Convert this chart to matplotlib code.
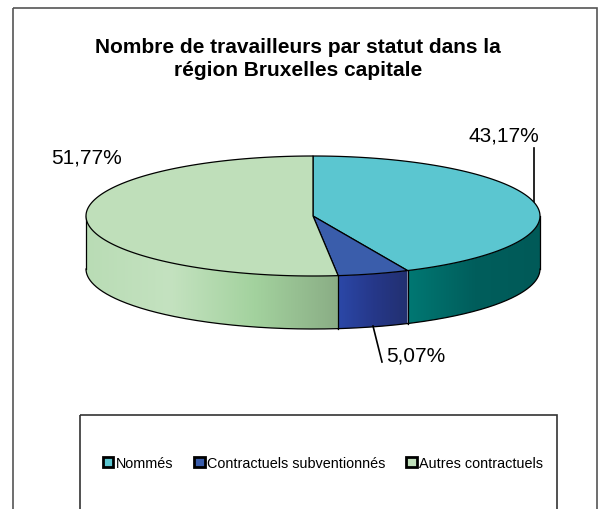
import numpy as np
import matplotlib
matplotlib.use("Agg")
import matplotlib.pyplot as plt
from matplotlib.patches import Polygon, Rectangle, Patch
from matplotlib.colors import to_rgb

plt.rcParams['font.family'] = ['Liberation Sans', 'DejaVu Sans']

# donnees
labels = ["Nommés", "Contractuels subventionnés", "Autres contractuels"]
values = [43.17, 5.07, 51.77]
pct_labels = ["43,17%", "5,07%", "51,77%"]
top_colors = ["#5BC6D0", "#3A5DAB", "#BFDFBA"]
# degrade des cotes (gauche -> droite)
side_colors = [["#007873", "#005E5C", "#005A58"],
               ["#2B48A8", "#26388A", "#223070"],
               ["#B9DCB5", "#C4E2C0", "#A3D29E", "#8AAD85"]]

# geometrie du camembert (pixels)
cx, cy = 313, 217
rx, ry = 227, 60
depth = 53

W, H = 601, 510
fig = plt.figure(figsize=(W / 100, H / 100), dpi=100)
ax = fig.add_axes([0, 0, 1, 1])
ax.set_xlim(0, W)
ax.set_ylim(H, 0)
ax.axis('off')

# cadre exterieur
ax.add_patch(Rectangle((13, 9), 584, 520, fill=False, edgecolor="#555555", lw=1.2))

def pt(a):
    r = np.radians(a)
    return cx + rx * np.cos(r), cy - ry * np.sin(r)

# angles des parts (sens horaire depuis le haut)
total = sum(values)
bounds = [90.0]
for v in values:
    bounds.append(bounds[-1] - v / total * 360.0)

# cotes (partie avant seulement)
for k in range(len(values)):
    a0, a1 = bounds[k], bounds[k + 1]
    lo, hi = min(a0, a1), max(a0, a1)
    lo2, hi2 = max(lo, -180), min(hi, 0)
    if lo2 >= hi2:
        continue
    angs = np.linspace(lo2, hi2, 200)
    top = [pt(a) for a in angs]
    bot = [(x, y + depth) for x, y in top][::-1]
    poly = Polygon(top + bot, closed=True, facecolor='none', edgecolor='none')
    ax.add_patch(poly)
    xs = [p[0] for p in top]
    xmin, xmax = min(xs), max(xs)
    stops = np.array([to_rgb(c) for c in side_colors[k]])
    t = np.linspace(0, 1, 256)
    sp = np.linspace(0, 1, len(stops))
    img = np.stack([np.interp(t, sp, stops[:, c]) for c in range(3)], axis=-1)[None, :, :]
    im = ax.imshow(img, extent=(xmin, xmax, cy + ry + depth + 2, cy - 2),
                   aspect='auto', interpolation='bilinear', zorder=1)
    im.set_clip_path(poly)
    ax.plot([p[0] for p in bot], [p[1] for p in bot], color="black", lw=0.9, zorder=3)

ax.set_xlim(0, W)
ax.set_ylim(H, 0)

# aretes verticales
for a in [-180, 0] + [b for b in bounds[1:-1] if -180 <= b <= 0]:
    x, y = pt(a)
    ax.plot([x, x], [y, y + depth], color="black", lw=0.9, zorder=3)

# dessus
for k in range(len(values)):
    a0, a1 = bounds[k], bounds[k + 1]
    angs = np.linspace(a0, a1, 200)
    verts = [(cx, cy)] + [pt(a) for a in angs]
    ax.add_patch(Polygon(verts, closed=True, facecolor=top_colors[k],
                         edgecolor="black", lw=0.9, joinstyle='round', zorder=4))

# etiquettes
ax.plot([534, 534], [149, 203], color="black", lw=1.2)
ax.text(504, 136, pct_labels[0], fontsize=15, ha='center', va='center')
ax.plot([373, 382], [327, 363], color="black", lw=1.2)
ax.text(386, 356, pct_labels[1], fontsize=15, ha='left', va='center')
ax.text(87, 158, pct_labels[2], fontsize=15, ha='center', va='center')

# titre
ax.text(298, 59, "Nombre de travailleurs par statut dans la\nrégion Bruxelles capitale",
        fontsize=15, fontweight='bold', ha='center', va='center', linespacing=1.3)

# legende
ax.add_patch(Rectangle((80, 416), 477, 120, fill=False, edgecolor="#333333", lw=1.2))
handles = [Patch(facecolor=c, edgecolor="black", lw=2) for c in top_colors]
ax.legend(handles, labels, loc='center', bbox_to_anchor=(323, 464),
          bbox_transform=ax.transData, ncol=3, frameon=False, fontsize=10.4,
          handlelength=0.75, handleheight=0.75, handletextpad=0.15,
          columnspacing=1.45, borderpad=0)

fig.savefig("out.png", dpi=100)
